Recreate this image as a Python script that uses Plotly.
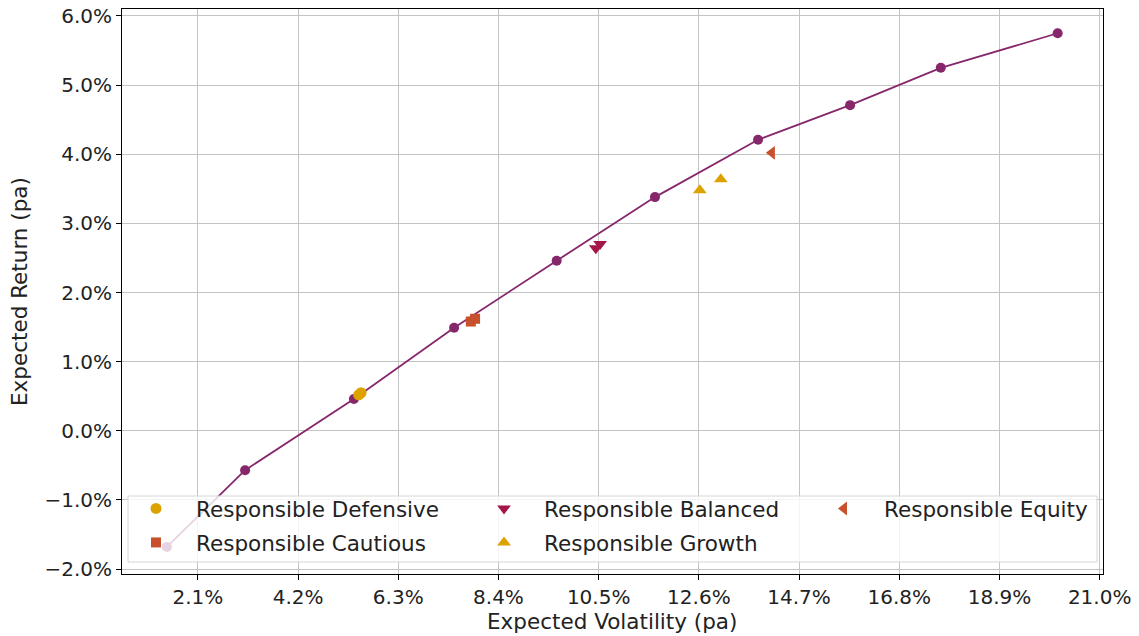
import plotly.graph_objects as go

# Efficient frontier (volatility %, return %)
frontier_vol = [1.45, 3.09, 5.37, 7.47, 9.62, 11.68, 13.84, 15.77, 17.67, 20.12]
frontier_ret = [-1.68, -0.57, 0.46, 1.49, 2.46, 3.38, 4.21, 4.71, 5.25, 5.75]

# Portfolios
defensive_vol = [5.47, 5.52]
defensive_ret = [0.52, 0.55]
cautious_vol = [7.82, 7.91]
cautious_ret = [1.58, 1.62]
balanced_vol = [10.44, 10.53]
balanced_ret = [2.64, 2.70]
growth_vol = [12.62, 13.06]
growth_ret = [3.48, 3.64]
equity_vol = [14.13]
equity_ret = [4.02]

x_ticks = [2.1, 4.2, 6.3, 8.4, 10.5, 12.6, 14.7, 16.8, 18.9, 21.0]
y_ticks = [-2.0, -1.0, 0.0, 1.0, 2.0, 3.0, 4.0, 5.0, 6.0]


def pct(v):
    return f"{v:.1f}%".replace("-", "\u2212")


PURPLE = "#87276b"
YELLOW = "#dca200"
ORANGE = "#c8502c"
CRIMSON = "#a4164a"

# page has an 8px body margin -> figure drawn at (8, 8)
OFF = 8
FW, FH = 1139 - OFF, 636 - OFF
# plot area in page pixels: x 122..1103, y 9..574
L, T, W, H = 122 - OFF, 9 - OFF, 981, 565


def px2x(p):
    return (p - OFF - L) / W


def px2y(p):
    return (T + H - (p - OFF)) / H


fig = go.Figure()
fig.add_trace(go.Scatter(x=frontier_vol, y=frontier_ret, mode="lines+markers",
                         line=dict(color=PURPLE, width=1.8),
                         marker=dict(color=PURPLE, size=10), showlegend=False))

series = [
    ("Responsible Defensive", defensive_vol, defensive_ret, "circle", YELLOW, "legend", 11),
    ("Responsible Cautious", cautious_vol, cautious_ret, "square", ORANGE, "legend", 10),
    ("Responsible Balanced", balanced_vol, balanced_ret, "triangle-down", CRIMSON, "legend2", 12),
    ("Responsible Growth", growth_vol, growth_ret, "triangle-up", YELLOW, "legend2", 12),
    ("Responsible Equity", equity_vol, equity_ret, "triangle-left", ORANGE, "legend3", 12),
]
for name, xs, ys, sym, col, leg, sz in series:
    fig.add_trace(go.Scatter(x=xs, y=ys, mode="markers", name=name, legend=leg,
                             legendgroup=name,
                             marker=dict(symbol=sym, color=col, size=sz)))

axis_common = dict(showgrid=True, gridcolor="#c4c4c4", gridwidth=1,
                   showline=True, linecolor="black", linewidth=1, mirror=True,
                   ticks="outside", ticklen=5, tickcolor="black", automargin=False,
                   ticklabeloverflow="allow",
                   zeroline=False, tickfont=dict(size=20, color="#222"))

fig.update_xaxes(range=[0.51, 21.07], tickvals=x_ticks,
                 ticktext=[pct(v) for v in x_ticks], **axis_common)
fig.update_yaxes(range=[-2.072, 6.101], tickvals=y_ticks,
                 ticktext=[pct(v) for v in y_ticks], **axis_common)

legend_common = dict(orientation="v", xanchor="left", yanchor="top",
                     bgcolor="rgba(0,0,0,0)", borderwidth=0,
                     font=dict(size=21.5, family="DejaVu Sans", color="#222"),
                     traceorder="grouped", tracegroupgap=3, itemwidth=70)

title_font = dict(size=21.5, family="DejaVu Sans", color="#222")

fig.update_layout(
    width=FW, height=FH,
    margin=dict(l=L, r=FW - L - W, t=T, b=FH - T - H, pad=0),
    plot_bgcolor="white", paper_bgcolor="white",
    font=dict(family="DejaVu Sans", size=20, color="#222"),
    legend=dict(x=px2x(116), y=px2y(488), **legend_common),
    legend2=dict(x=px2x(464), y=px2y(488), **legend_common),
    legend3=dict(x=px2x(804), y=px2y(488), **legend_common),
    shapes=[dict(type="rect", xref="paper", yref="paper", layer="above",
                 x0=px2x(128), x1=px2x(1097), y0=px2y(562), y1=px2y(496),
                 fillcolor="rgba(255,255,255,0.8)",
                 line=dict(color="#d6d6d6", width=1))],
    annotations=[
        dict(text="Expected Volatility (pa)", xref="paper", yref="paper",
             x=px2x(612), y=px2y(621), xanchor="center", yanchor="middle",
             showarrow=False, font=title_font),
        dict(text="Expected Return (pa)", xref="paper", yref="paper",
             x=px2x(19), y=px2y(292), xanchor="center", yanchor="middle",
             textangle=-90, showarrow=False, font=title_font),
    ],
)

fig.write_html("out.html")
